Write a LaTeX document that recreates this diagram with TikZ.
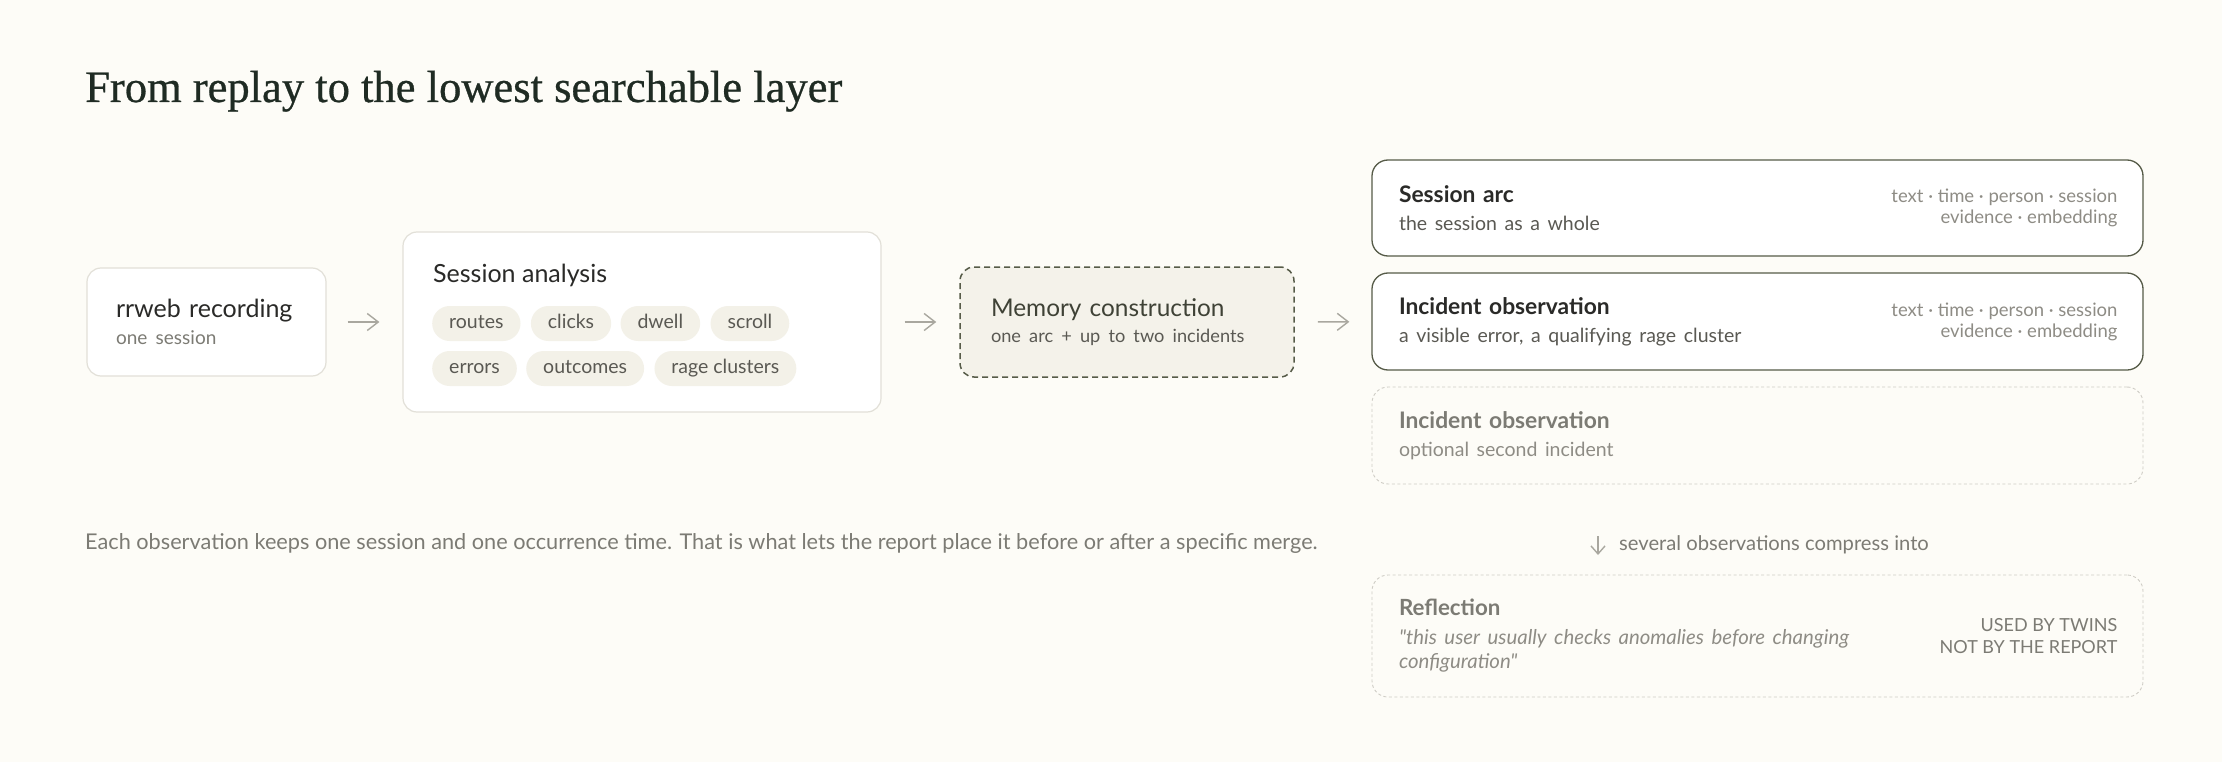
\documentclass[tikz,border=0pt]{standalone}
\usepackage{fontspec}
\setmainfont{Lato}[Ligatures=TeXOff]
\newfontfamily\titlefont[FakeStretch=0.99, FakeBold=0.6]{Liberation Serif}
\usepackage{tikz}
\usetikzlibrary{arrows.meta, positioning}
\definecolor{paper}{HTML}{FDFCF7}
\definecolor{ink}{HTML}{1F2B23}
\definecolor{dark}{HTML}{2A2A28}
\definecolor{muted}{HTML}{7C7B74}
\definecolor{soft}{HTML}{5A5953}
\definecolor{faint}{HTML}{8E8C85}
\definecolor{rulegrey}{HTML}{E2E0D8}
\definecolor{olive}{HTML}{565B48}
\definecolor{oliveink}{HTML}{3F4236}
\definecolor{chipfill}{HTML}{F3F1E8}
\definecolor{memfill}{HTML}{F4F2EA}
\definecolor{ghost}{HTML}{CFCDC6}
\definecolor{arrowgrey}{HTML}{A9A79F}
\newcommand{\pxsize}[2]{\fontsize{#1pt}{#2pt}\selectfont}
\tikzset{
    heading/.style = {anchor=base west, inner sep=0pt, text=ink, font=\titlefont\pxsize{45}{50}},
    card/.style = {draw=rulegrey, line width=1.2pt, fill=white, rounded corners=14pt,
                   align=left, inner xsep=29pt, inner ysep=0pt, text=dark, font=\pxsize{25}{27}},
    cardtitle/.style = {anchor=base west, inner sep=0pt, text=dark, font=\pxsize{25}{27}},
    chip/.style = {fill=chipfill, rounded corners=17.5pt, minimum height=35pt, inner xsep=17pt,
                   inner ysep=0pt, text height=14pt, text depth=4pt, text=soft, font=\pxsize{19.5}{22}},
    memory/.style = {draw=olive, line width=1.5pt, dash pattern=on 6pt off 4pt, fill=memfill,
                     rounded corners=14pt, align=left, inner xsep=31pt, inner ysep=0pt,
                     text=oliveink, font=\pxsize{24.4}{26}},
    layer/.style = {draw=olive, line width=1.3pt, fill=white, rounded corners=16pt, align=left,
                    minimum width=771pt, text width=717pt, inner xsep=27pt, inner ysep=0pt,
                    text=dark, font=\pxsize{22.8}{28}},
    ghostlayer/.style = {layer, draw=ghost, line width=0.9pt, dash pattern=on 3pt off 2.5pt,
                         fill=none, text=muted},
    meta/.style = {align=right, inner sep=0pt, text=faint, font=\pxsize{18.5}{21}},
    note/.style = {anchor=base west, inner sep=0pt, text=muted, font=\pxsize{21.7}{24}},
    flow/.style = {draw=arrowgrey, line width=1.4pt, -{Straight Barb[length=11pt,width=17pt]}}
    }

\begin{document}
\begin{tikzpicture}[
      x = 1pt, y = -1pt, % pixel grid, y runs down
      line join = round
    ]
    \fill[paper] (0,0) rectangle (2222,762);
    \useasboundingbox (0,0) rectangle (2222,762);

    \node[heading] (title) at (85,102) {From replay to the lowest searchable layer};

    % pipeline
    \node[card, text width=181pt, minimum height=108pt] (rrweb) at (206.5,322)
        {rrweb recording\\{\pxsize{19}{27}\color{muted}one session}};

    \node[card, minimum width=478pt, minimum height=180pt] (analysis) at (642,322) {};
    \node[cardtitle] (analysisTitle) at (433,282) {Session analysis};
    \node[chip, anchor=west] (routes) at (432,323.5) {routes};
    \node[chip, right=10pt of routes] (clicks) {clicks};
    \node[chip, right=9pt of clicks] (dwell) {dwell};
    \node[chip, right=10pt of dwell] (scroll) {scroll};
    \node[chip, anchor=west] (errors) at (432,368.5) {errors};
    \node[chip, right=9pt of errors] (outcomes) {outcomes};
    \node[chip, right=10pt of outcomes] (rage) {rage clusters};

    \node[memory, text width=272pt, minimum height=110pt] (memory) at (1127,322)
        {Memory construction\\{\pxsize{18.2}{26}\color{soft}one arc + up to two incidents}};

    % layers
    \node[layer, minimum height=96pt] (arc) at (1757.5,208)
        {\textbf{Session arc}\\{\pxsize{19.5}{28}\color{soft}the session as a whole}};
    \node[meta, left=26pt of arc.east] (arcMeta) {text · time · person · session\\evidence · embedding};

    \node[layer, minimum height=97pt] (incident) at (1757.5,321.5)
        {\textbf{Incident observation}\\{\pxsize{19.5}{28}\color{soft}a visible error, a qualifying rage cluster}};
    \node[meta, left=26pt of incident.east] (incidentMeta) {text · time · person · session\\evidence · embedding};

    \node[ghostlayer, minimum height=97pt] (optional) at (1757.5,435.5)
        {\textbf{Incident observation}\\{\pxsize{19.5}{28}\color{faint}optional second incident}};

    \coordinate (squeezeTop) at (1598,536);
    \coordinate (squeezeEnd) at (1598,555);
    \node[note, font=\pxsize{20.2}{22}] (squeeze) at (1619,550) {several observations compress into};

    \node[ghostlayer, minimum height=122pt, font=\pxsize{22.3}{24}] (reflection) at (1757.5,636)
        {\textbf{Reflection}\\[5pt]{\pxsize{20.4}{24}\itshape\color{faint}"this user usually checks anomalies before changing\\configuration"}};
    \node[meta, left=26pt of reflection.east, text=muted, font=\pxsize{18}{22}] (reflectionMeta)
        {USED BY TWINS\\NOT BY THE REPORT};

    \node[note] (footnote) at (85,549)
        {Each observation keeps one session and one occurrence time. That is what lets the report place it before or after a specific merge.};

    \draw[flow, shorten <=21pt, shorten >=23pt] (rrweb) -- (analysis);
    \draw[flow, shorten <=23pt, shorten >=23pt] (analysis) -- (memory);
    \draw[flow, shorten <=23pt, shorten >=22pt] (memory) -- (incident);
    \draw[flow, -{Straight Barb[length=8pt,width=14pt]}] (squeezeTop) -- (squeezeEnd);
\end{tikzpicture}
\end{document}
